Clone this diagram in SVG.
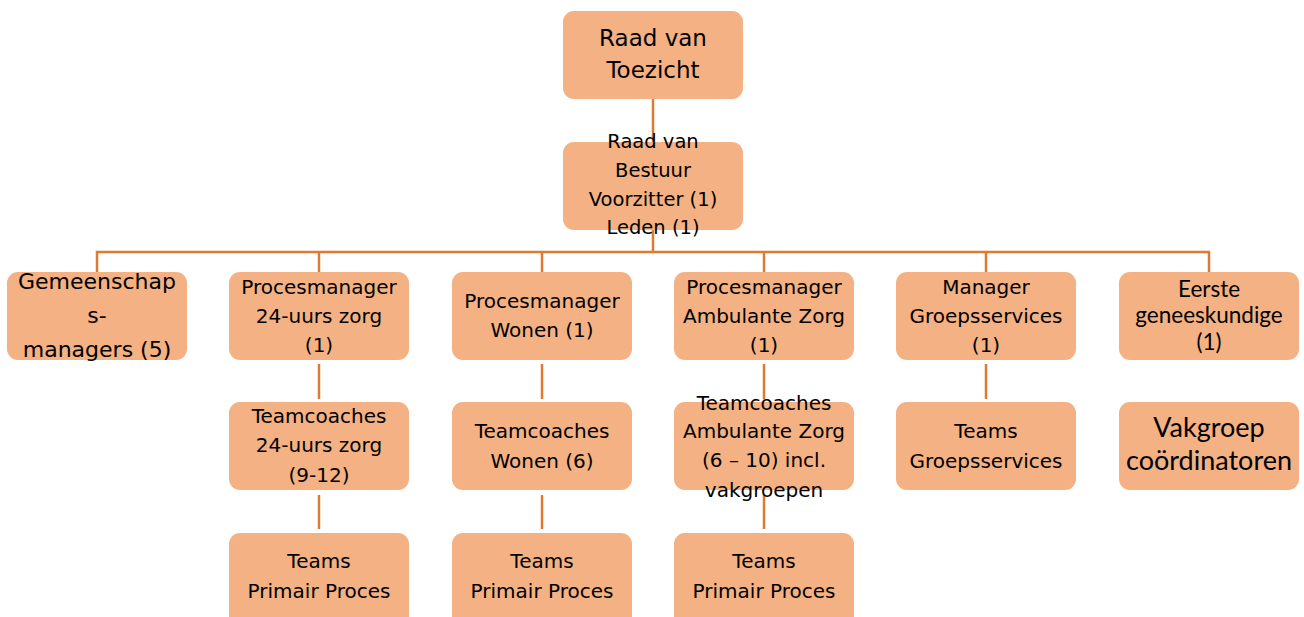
<svg xmlns="http://www.w3.org/2000/svg" width="1304" height="617" viewBox="0 0 1304 617">
<style>
.box{fill:#F4B183;}
.t{font-family:"DejaVu Sans",Verdana,sans-serif;font-size:20px;fill:#000;text-anchor:middle;}
.big{font-size:23px;}
.big2{font-size:22px;}
.c{font-family:Lato,"Liberation Sans",sans-serif;fill:#000;text-anchor:middle;}
.ln{stroke:#E07A32;stroke-width:2.5;fill:none;}
</style>
<rect width="1304" height="617" fill="#fff"/>
<g id="connectors">
<line class="ln" x1="653" y1="99" x2="653" y2="142"/>
<line class="ln" x1="653" y1="230" x2="653" y2="252"/>
<polyline class="ln" points="97,272 97,252 1209,252 1209,272"/>
<line class="ln" x1="319" y1="252" x2="319" y2="272"/>
<line class="ln" x1="542" y1="252" x2="542" y2="272"/>
<line class="ln" x1="764" y1="252" x2="764" y2="272"/>
<line class="ln" x1="986" y1="252" x2="986" y2="272"/>
<line class="ln" x1="319" y1="364" x2="319" y2="399"/>
<line class="ln" x1="319" y1="495" x2="319" y2="529"/>
<line class="ln" x1="542" y1="364" x2="542" y2="399"/>
<line class="ln" x1="542" y1="495" x2="542" y2="529"/>
<line class="ln" x1="764" y1="364" x2="764" y2="399"/>
<line class="ln" x1="764" y1="495" x2="764" y2="529"/>
<line class="ln" x1="986" y1="364" x2="986" y2="399"/>
</g>
<g id="rvt"><rect class="box" x="563" y="11" width="180" height="88" rx="11"/>
<text class="t big" x="653"><tspan x="653" y="46">Raad van</tspan><tspan x="653" y="78">Toezicht</tspan></text></g>
<g id="rvb"><rect class="box" x="563" y="142" width="180" height="88" rx="11"/>
<text class="t" x="653" style="font-size:19.5px"><tspan x="653" y="148">Raad van</tspan><tspan x="653" y="177">Bestuur</tspan><tspan x="653" y="206">Voorzitter (1)</tspan><tspan x="653" y="234">Leden (1)</tspan></text></g>
<g id="gemeenschap"><rect class="box" x="7" y="272" width="180" height="88" rx="11"/>
<text class="t big2"><tspan x="97" y="289">Gemeenschap</tspan><tspan x="97" y="323">s-</tspan><tspan x="97" y="357">managers (5)</tspan></text></g>
<g id="pm24"><rect class="box" x="229" y="272" width="180" height="88" rx="11"/>
<text class="t"><tspan x="319" y="294">Procesmanager</tspan><tspan x="319" y="323">24-uurs zorg</tspan><tspan x="319" y="352">(1)</tspan></text></g>
<g id="pmwonen"><rect class="box" x="452" y="272" width="180" height="88" rx="11"/>
<text class="t"><tspan x="542" y="308">Procesmanager</tspan><tspan x="542" y="337">Wonen (1)</tspan></text></g>
<g id="pmamb"><rect class="box" x="674" y="272" width="180" height="88" rx="11"/>
<text class="t"><tspan x="764" y="294">Procesmanager</tspan><tspan x="764" y="323">Ambulante Zorg</tspan><tspan x="764" y="352">(1)</tspan></text></g>
<g id="mgrgroep"><rect class="box" x="896" y="272" width="180" height="88" rx="11"/>
<text class="t"><tspan x="986" y="294">Manager</tspan><tspan x="986" y="323">Groepsservices</tspan><tspan x="986" y="352">(1)</tspan></text></g>
<g id="eerste"><rect class="box" x="1119" y="272" width="180" height="88" rx="11"/>
<text class="c" style="font-size:22.5px"><tspan x="1209" y="297">Eerste</tspan><tspan x="1209" y="323">geneeskundige</tspan><tspan x="1209" y="350">(1)</tspan></text></g>
<g id="tc24"><rect class="box" x="229" y="402" width="180" height="88" rx="11"/>
<text class="t"><tspan x="319" y="423">Teamcoaches</tspan><tspan x="319" y="452">24-uurs zorg</tspan><tspan x="319" y="482">(9-12)</tspan></text></g>
<g id="tcwonen"><rect class="box" x="452" y="402" width="180" height="88" rx="11"/>
<text class="t"><tspan x="542" y="438">Teamcoaches</tspan><tspan x="542" y="468">Wonen (6)</tspan></text></g>
<g id="tcamb"><rect class="box" x="674" y="402" width="180" height="88" rx="11"/>
<text class="t"><tspan x="764" y="410">Teamcoaches</tspan><tspan x="764" y="438">Ambulante Zorg</tspan><tspan x="764" y="467">(6 – 10) incl.</tspan><tspan x="764" y="497">vakgroepen</tspan></text></g>
<g id="teamsgroep"><rect class="box" x="896" y="402" width="180" height="88" rx="11"/>
<text class="t"><tspan x="986" y="438">Teams</tspan><tspan x="986" y="468">Groepsservices</tspan></text></g>
<g id="vakgroep"><rect class="box" x="1119" y="402" width="180" height="88" rx="11"/>
<text class="c" style="font-size:27px"><tspan x="1209" y="437">Vakgroep</tspan><tspan x="1209" y="470">coördinatoren</tspan></text></g>
<g id="teams24"><rect class="box" x="229" y="533" width="180" height="95" rx="11"/>
<text class="t"><tspan x="319" y="568">Teams</tspan><tspan x="319" y="598">Primair Proces</tspan></text></g>
<g id="teamswonen"><rect class="box" x="452" y="533" width="180" height="95" rx="11"/>
<text class="t"><tspan x="542" y="568">Teams</tspan><tspan x="542" y="598">Primair Proces</tspan></text></g>
<g id="teamsamb"><rect class="box" x="674" y="533" width="180" height="95" rx="11"/>
<text class="t"><tspan x="764" y="568">Teams</tspan><tspan x="764" y="598">Primair Proces</tspan></text></g>
</svg>
